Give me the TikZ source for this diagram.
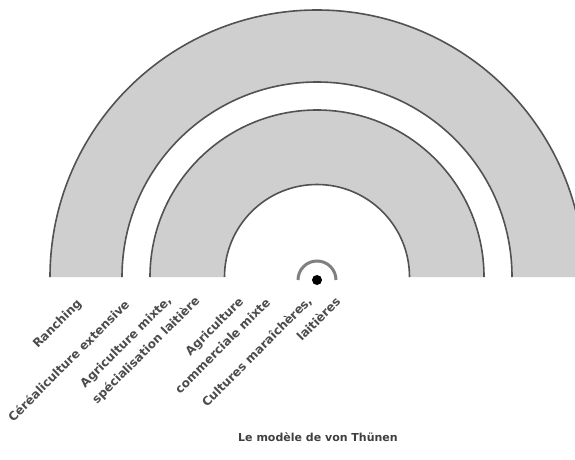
\documentclass[tikz,border=0pt]{standalone}
\usepackage{fontspec}
\setmainfont{DejaVu Sans}
\usetikzlibrary{calc}
\begin{document}
\begin{tikzpicture}[x=1pt,y=1pt,
  band/.style={fill=black!19},
  ringline/.style={draw=black!68,line width=1.6pt},
  lbl/.style={rotate=45,anchor=east,inner sep=0pt,text=black!70,font=\fontsize{12}{14}\selectfont\bfseries},
  ttl/.style={inner sep=0pt,text=black!75,font=\fontsize{11}{13}\selectfont\bfseries}]
\useasboundingbox (0,0) rectangle (575,459);
\clip (0,0) rectangle (575,459);
\fill[white] (0,0) rectangle (575,459);
\coordinate (c) at (317,182);
% outer band
\fill[band] ($(c)+(-267,0)$) arc[start angle=180,end angle=0,radius=267]
  -- ($(c)+(195,0)$) arc[start angle=0,end angle=180,radius=195] -- cycle;
% inner band
\fill[band] ($(c)+(-167,0)$) arc[start angle=180,end angle=0,radius=167]
  -- ($(c)+(92.5,0)$) arc[start angle=0,end angle=180,radius=92.5] -- cycle;
\foreach \r in {267,195,167,92.5}
  \draw[ringline] ($(c)+(-\r,0)$) arc[start angle=180,end angle=0,radius=\r];
% city symbol
\draw[black!50,line width=3pt] ($(c)+(-19,-3)$) arc[start angle=180,end angle=0,radius=19];
\node[circle,fill=black,minimum size=10pt,inner sep=0pt] (city) at ($(c)+(0,-3)$) {};
% labels
\node[lbl] (l1) at (80,157) {Ranching};
\node[lbl] (l2) at (127,157) {Céréaliculture extensive};
\node[lbl] (l3) at (170,160) {Agriculture mixte,};
\node[lbl] (l4) at (198,160) {spécialisation laitière};
\node[lbl] (l5) at (242,159) {Agriculture};
\node[lbl] (l6) at (268,159) {commerciale mixte};
\node[lbl] (l7) at (310,160) {Cultures maraîchères,};
\node[lbl] (l8) at (338,160) {laitières};
\node[ttl] (title) at (318,22) {Le modèle de von Thünen};
\end{tikzpicture}
\end{document}
